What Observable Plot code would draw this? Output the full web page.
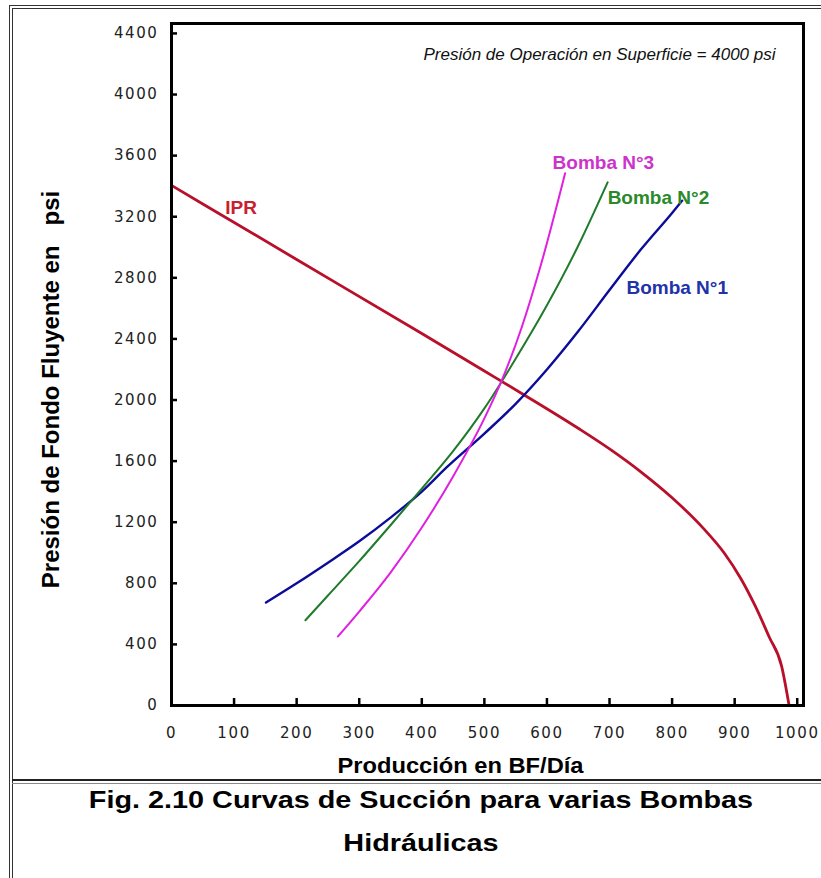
<!DOCTYPE html>
<html><head><meta charset="utf-8">
<script src="https://cdn.jsdelivr.net/npm/d3@7"></script>
<script src="https://cdn.jsdelivr.net/npm/@observablehq/plot@0.6"></script>
<style>
html,body{margin:0;padding:0;background:#fff;}
#page{position:relative;width:821px;height:878px;overflow:hidden;background:#fff;font-family:"Liberation Sans",Arial,sans-serif;}
.hl{position:absolute;background:#333;}
#chart{position:absolute;left:0;top:0;}
#chart svg text{white-space:pre;}
.cap{position:absolute;left:21px;width:800px;text-align:center;font-weight:bold;font-size:24px;line-height:24px;color:#000;transform:scaleX(1.2);transform-origin:400px 0;}
</style></head>
<body><div id="page">
<div class="hl" style="left:9px;top:5px;width:812px;height:1px"></div>
<div class="hl" style="left:12px;top:8px;width:809px;height:1px"></div>
<div class="hl" style="left:9px;top:5px;width:1px;height:873px"></div>
<div class="hl" style="left:12px;top:8px;width:1px;height:870px"></div>
<div class="hl" style="left:12px;top:779px;width:809px;height:2px;background:#222"></div>
<div class="hl" style="left:12px;top:783px;width:809px;height:1px;background:#888"></div>
<div id="chart"></div>
<div class="cap" id="cap1" style="top:788px"></div>
<div class="cap" id="cap2" style="top:831px"></div>
</div>
<script>
// ---- data ----
const xTicks = [0, 100, 200, 300, 400, 500, 600, 700, 800, 900, 1000];
const yTicks = [0, 400, 800, 1200, 1600, 2000, 2400, 2800, 3200, 3600, 4000, 4400];

const iprQ = [0, 200, 400, 500, 565, 650, 700, 750, 800, 850, 883, 910, 933, 955, 975, 987];
const iprP = [3405, 2920, 2435, 2190, 2030, 1815, 1680, 1530, 1360, 1160, 1000, 830, 650, 450, 258, 0];

const b1Q = [151, 200, 250, 300, 350, 400, 440, 500, 550, 600, 650, 700, 750, 800, 816];
const b1P = [674, 800, 935, 1075, 1230, 1400, 1560, 1780, 1975, 2200, 2450, 2720, 2985, 3225, 3305];

const b2Q = [214, 250, 300, 350, 400, 450, 500, 550, 600, 650, 697];
const b2P = [558, 720, 945, 1180, 1420, 1665, 1945, 2270, 2620, 3010, 3425];

const b3Q = [266, 300, 350, 400, 450, 500, 530, 560, 590, 629];
const b3P = [452, 615, 870, 1165, 1500, 1880, 2150, 2480, 2880, 3484];

const labelText = ["IPR", "Bomba N°3", "Bomba N°2", "Bomba N°1"];
const labelQ = [86, 609, 697, 727];
const labelP = [3260, 3555, 3326, 2737];

const xTitle = "Producción en BF/Día";
const yTitle = "Presión de Fondo Fluyente en   psi";
const note = "Presión de Operación en Superficie = 4000 psi";
const caption1 = "Fig. 2.10 Curvas de Succión para varias Bombas";
const caption2 = "Hidráulicas";

// ---- build ----
const pts = (q, p) => q.map((d, i) => ({q: d, p: p[i]}));
const ipr = pts(iprQ, iprP), b1 = pts(b1Q, b1P), b2 = pts(b2Q, b2P), b3 = pts(b3Q, b3P);
const labelColors = ["#c8202e", "#cc33cc", "#2a8a2a", "#2233aa"];
const labels = labelText.map((t, i) => ({t, q: labelQ[i], p: labelP[i], c: labelColors[i]}));
const fmt = d3.format("d");

const chart = Plot.plot({
  width: 821, height: 790,
  marginLeft: 171, marginRight: 18, marginTop: 23, marginBottom: 85,
  x: {domain: [0, 1010]},
  y: {domain: [0, 4465]},
  style: {fontFamily: "Liberation Sans, Arial, sans-serif", background: "transparent", overflow: "visible"},
  marks: [
    Plot.axisX(xTicks, {tickSize: 0, tickPadding: 22, tickFormat: fmt, fontFamily: "DejaVu Sans", fontSize: 15, label: null, color: "#222"}),
    Plot.axisY(yTicks, {tickSize: 0, tickPadding: 13, tickFormat: fmt, fontFamily: "DejaVu Sans", fontSize: 15, label: null, color: "#222"}),
    Plot.tickX(xTicks, {x: d => d, stroke: "black", strokeWidth: 2.5, insetTop: 675}),
    Plot.tickY(yTicks, {y: d => d, stroke: "black", strokeWidth: 2.5, insetRight: 626}),
    Plot.line(ipr, {x: "q", y: "p", stroke: "#b8102a", strokeWidth: 2.8, curve: "monotone-x"}),
    Plot.line(b1, {x: "q", y: "p", stroke: "#0c0c9a", strokeWidth: 2.4, curve: "monotone-x"}),
    Plot.line(b2, {x: "q", y: "p", stroke: "#1f7a2a", strokeWidth: 2, curve: "monotone-x"}),
    Plot.line(b3, {x: "q", y: "p", stroke: "#e020e0", strokeWidth: 2, curve: "monotone-x"}),
    Plot.frame({stroke: "black", strokeWidth: 3}),
    Plot.text(labels, {x: "q", y: "p", text: "t", fill: "c", textAnchor: "start", fontWeight: "bold", fontSize: 19}),
    Plot.text([xTitle], {frameAnchor: "bottom", text: d => d, dx: -27, dy: 67, lineAnchor: "bottom", fontWeight: "bold", fontSize: 22, fill: "#000"}),
    Plot.text([yTitle], {frameAnchor: "left", text: d => d, rotate: -90, textAnchor: "middle", dx: -113, dy: 25, lineAnchor: "bottom", fontWeight: "bold", fontSize: 24, fill: "#000"}),
    Plot.text([note], {frameAnchor: "top-right", text: d => d, dx: -28, dy: 24, textAnchor: "end", fontStyle: "italic", fontSize: 17, fill: "#111"})
  ]
});
document.getElementById("chart").appendChild(chart);
d3.select(chart).selectAll('g[aria-label="y-axis tick label"] text, g[aria-label="x-axis tick label"] text').style("letter-spacing", "1.6px");
// horizontal text in the reference is slightly wide: stretch the x title to its width
d3.select(chart).selectAll("text").filter(function() { return this.textContent === xTitle; })
  .attr("textLength", 246).attr("lengthAdjust", "spacingAndGlyphs");
document.getElementById("cap1").textContent = caption1;
document.getElementById("cap2").textContent = caption2;
</script>
</body></html>
